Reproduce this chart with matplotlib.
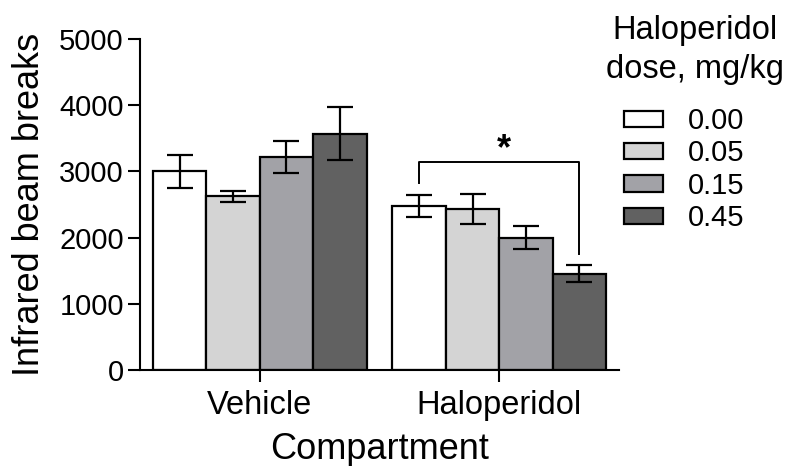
import matplotlib
matplotlib.use("Agg")
import matplotlib.pyplot as plt
import numpy as np

plt.rcParams['font.family'] = ['Liberation Sans', 'DejaVu Sans']

groups = ["Vehicle", "Haloperidol"]
doses = ["0.00", "0.05", "0.15", "0.45"]
means = {
    "0.00": [3005, 2480],
    "0.05": [2625, 2430],
    "0.15": [3220, 2000],
    "0.45": [3570, 1455],
}
sems = {
    "0.00": [250, 170],
    "0.05": [80, 225],
    "0.15": [240, 175],
    "0.45": [400, 125],
}
colors = ["#ffffff", "#d4d4d4", "#a2a2a7", "#616161"]
yticks = [0, 1000, 2000, 3000, 4000, 5000]

# significance bracket (Haloperidol: 0.00 vs 0.45)
bracket_top = 3137
bracket_left_end = 2820
bracket_right_end = 1752

fig = plt.figure(figsize=(7.88, 4.66), dpi=100)
ax = fig.add_axes([140/788, 1-370/466, (619-140)/788, (370-39)/466])

x = np.arange(len(groups))
w = 0.223
offsets = (np.arange(len(doses)) - 1.5) * w
for i, d in enumerate(doses):
    ax.bar(x + offsets[i], means[d], width=w, color=colors[i], edgecolor="black",
           linewidth=1.6, label=d, zorder=2)
    ax.errorbar(x + offsets[i], means[d], yerr=sems[d], fmt="none", ecolor="black",
                elinewidth=1.6, capsize=9.5, capthick=1.6, zorder=3)

xl = 1 + offsets[0]
xr = 1 + offsets[3]
ax.plot([xl, xl, xr, xr], [bracket_left_end, bracket_top, bracket_top, bracket_right_end],
        color="black", linewidth=1.4, zorder=4)
ax.text((xl + xr) / 2 + 0.02, 3330, "*", ha="center", va="center", fontsize=26, fontweight="bold")

ax.set_xlim(-0.5, 1.5)
ax.set_ylim(0, 5000)
ax.set_yticks(yticks)
ax.set_xticks(x)
ax.set_xticklabels(groups)
for s in ["top", "right"]:
    ax.spines[s].set_visible(False)
for s in ["left", "bottom"]:
    ax.spines[s].set_linewidth(1.5)
ax.tick_params(axis="both", direction="out", length=8.6, width=1.5, labelsize=21, pad=3)
ax.tick_params(axis="x", labelsize=23.5, pad=6)
ax.set_ylabel("Infrared beam breaks", fontsize=26, labelpad=9)
ax.set_xlabel("Compartment", fontsize=26, labelpad=8)

fig.text(695/788, 1 - 15/466, "Haloperidol\ndose, mg/kg", ha="center", va="top",
         fontsize=23.5, linespacing=1.32)
leg = ax.legend(frameon=False, fontsize=21, loc="upper center",
                bbox_to_anchor=(684/788, 1 - 107/466), bbox_transform=fig.transFigure,
                handlelength=1.34, handleheight=0.48, handletextpad=0.86,
                labelspacing=0.15, borderaxespad=0.0, borderpad=0.0)

fig.savefig("out.png", dpi=100)
